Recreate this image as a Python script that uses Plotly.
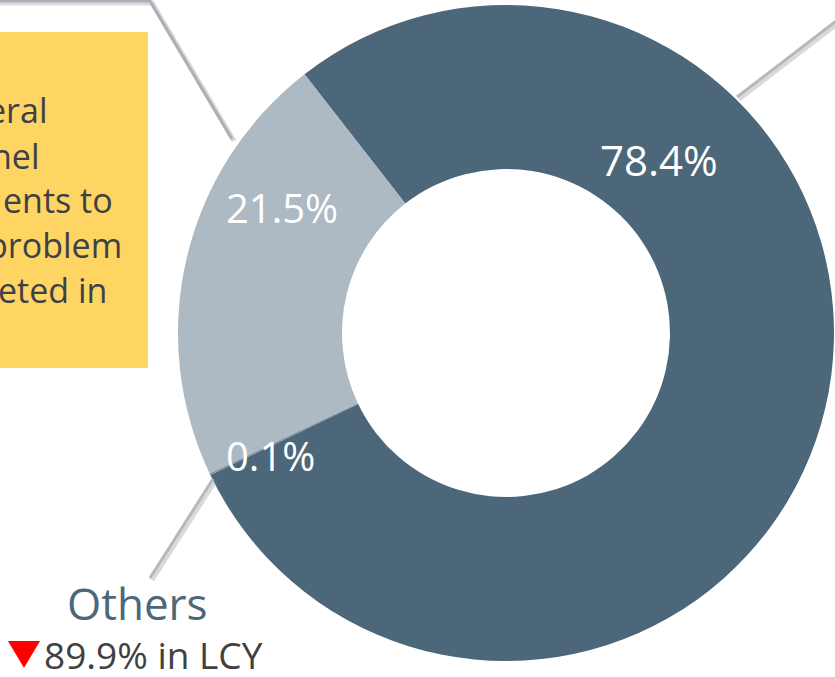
import plotly.graph_objects as go

W, H = 835, 677

# ---- data ----
categories = ["Government", "Others", "Corporate"]
shares = [78.4, 0.1, 21.5]
slice_labels = ["78.4%", "0.1%", "21.5%"]
slice_colors = ["#4B6779", "#7F97A8", "#ADB9C3"]
box_lines = ["eral", "nel", "ents to", "problem", "eted in"]
others_title = "Others"
others_change = "89.9% in LCY"


def px(x):
    return x / W


def py(y):
    return 1 - y / H


# donut geometry (pixels)
cx, cy, R = 506, 333, 328

fig = go.Figure()
fig.add_trace(go.Pie(
    labels=categories,
    values=shares,
    hole=0.5,
    sort=False,
    direction="clockwise",
    rotation=-37.9,
    marker=dict(colors=slice_colors, line=dict(width=0)),
    textinfo="none",
    hoverinfo="label+percent",
    showlegend=False,
    domain=dict(x=[px(cx - R), px(cx + R)], y=[py(cy + R), py(cy - R)]),
))

shapes = []
# yellow box
shapes.append(dict(type="rect", xref="paper", yref="paper",
                   x0=px(-5), x1=px(148), y0=py(368), y1=py(32),
                   fillcolor="#FED563", line=dict(width=0), layer="below"))


def callout(points, color="#A9B0B7"):
    path = "M " + " L ".join(f"{px(a)},{py(b)}" for a, b in points)
    shp = "M " + " L ".join(f"{px(a+2)},{py(b+2)}" for a, b in points)
    shapes.append(dict(type="path", xref="paper", yref="paper", path=shp,
                       line=dict(color="rgba(150,150,150,0.35)", width=5)))
    shapes.append(dict(type="path", xref="paper", yref="paper", path=path,
                       line=dict(color=color, width=3)))


callout([(-5, 1), (150, 1), (232, 139)])
callout([(213, 479), (150, 578)], color="#B5B9BD")
callout([(737, 97), (836, 21)], color="#B5B9BD")

# red down triangle
shapes.append(dict(type="path", xref="paper", yref="paper",
                   path=f"M {px(8)},{py(641)} L {px(40)},{py(641)} L {px(24)},{py(668)} Z",
                   fillcolor="#FF0000", line=dict(width=0)))

annotations = []
# percentage labels
label_pos = {"78.4%": (659, 159, 42), "21.5%": (282, 207, 40), "0.1%": (270, 455, 40)}
for lab in slice_labels:
    x, y, s = label_pos[lab]
    annotations.append(dict(text=lab, x=px(x), y=py(y), xref="paper", yref="paper",
                            showarrow=False, xanchor="center", yanchor="middle",
                            font=dict(family="Open Sans", size=s, color="white")))

# box text (cropped on the left)
box_right = [47, 40, 113, 122, 107]
box_y = [110, 156, 200, 245, 290]
for t, xr, yc in zip(box_lines, box_right, box_y):
    annotations.append(dict(text=t, x=px(xr + 2), y=py(yc), xref="paper", yref="paper",
                            showarrow=False, xanchor="right", yanchor="middle",
                            font=dict(family="Open Sans", size=34, color="#3D4147")))

annotations.append(dict(text=others_title, x=px(137), y=py(603), xref="paper", yref="paper",
                        showarrow=False, xanchor="center", yanchor="middle",
                        font=dict(family="Open Sans", size=44, color="#4B6779")))
annotations.append(dict(text=others_change,
                        x=px(42), y=py(654), xref="paper", yref="paper",
                        showarrow=False, xanchor="left", yanchor="middle",
                        font=dict(family="Open Sans", size=37, color="#404040")))

fig.update_layout(
    width=W, height=H,
    margin=dict(l=0, r=0, t=0, b=0),
    paper_bgcolor="white",
    plot_bgcolor="white",
    shapes=shapes,
    annotations=annotations,
)

fig.write_html("out.html")
